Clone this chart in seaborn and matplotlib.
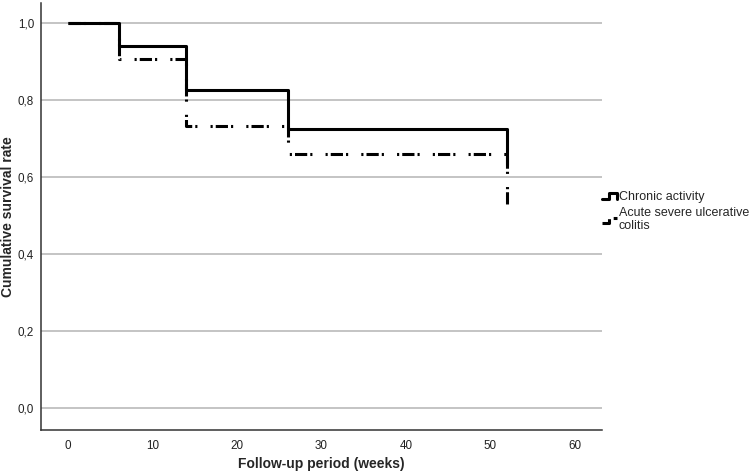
import matplotlib
matplotlib.use("Agg")
import matplotlib.pyplot as plt
import seaborn as sns
import pandas as pd
from matplotlib.lines import Line2D
from matplotlib.legend_handler import HandlerLine2D
from matplotlib.ticker import FuncFormatter

# ---- data ----
groups = ["Chronic activity", "Acute severe ulcerative\ncolitis"]
time_chronic = [0, 6, 14, 26, 52]
surv_chronic = [1.0, 0.941, 0.827, 0.724, 0.63]
time_asuc = [0, 6, 14, 26, 52]
surv_asuc = [1.0, 0.905, 0.733, 0.66, 0.53]
x_ticks = [0, 10, 20, 30, 40, 50, 60]
y_ticks = [0.0, 0.2, 0.4, 0.6, 0.8, 1.0]

df = pd.concat([
    pd.DataFrame({"time": time_chronic, "surv": surv_chronic, "group": groups[0]}),
    pd.DataFrame({"time": time_asuc, "surv": surv_asuc, "group": groups[1]}),
], ignore_index=True)

sns.set_theme(style="white")
plt.rcParams["font.family"] = ["Liberation Sans", "DejaVu Sans"]

fig = plt.figure(figsize=(7.55, 4.73), dpi=100)
ax = fig.add_axes([0.0543, 0.0909, 0.7427, 0.9031])

dash_asuc = (4, 1, 0.7, 4.3, 0.7, 1)
sns.lineplot(data=df, x="time", y="surv", hue="group", style="group",
             palette={groups[0]: "black", groups[1]: "black"},
             dashes={groups[0]: "", groups[1]: dash_asuc},
             drawstyle="steps-post", estimator=None, sort=False,
             linewidth=2.2, legend=False, ax=ax)

for ln in ax.get_lines():
    ln.set_dash_capstyle("butt")
    ln.set_solid_capstyle("butt")

ax.set_xlim(-3.2, 63.2)
ax.set_ylim(-0.057, 1.052)
ax.set_xticks(x_ticks)
ax.set_yticks(y_ticks)
ax.yaxis.set_major_formatter(FuncFormatter(lambda v, p: f"{v:.1f}".replace(".", ",")))
ax.tick_params(axis="both", length=0, labelsize=8.4, colors="#222222")
ax.tick_params(axis="x", pad=7)
ax.tick_params(axis="y", pad=5)
ax.grid(axis="y", color="#b4b4b4", linewidth=1.1)
ax.set_axisbelow(True)
for s in ["top", "right"]:
    ax.spines[s].set_visible(False)
for s in ["left", "bottom"]:
    ax.spines[s].set_color("#333333")
    ax.spines[s].set_linewidth(1.1)

ax.set_xlabel("Follow-up period (weeks)", fontsize=10, fontweight="bold")
ax.set_ylabel("Cumulative survival rate", fontsize=10, fontweight="bold")
ax.xaxis.set_label_coords(0.5, -0.08)
ax.xaxis.label.set_va("center")
ax.yaxis.set_label_coords(-0.058, 0.5)
ax.yaxis.label.set_va("center")


class StepHandler(HandlerLine2D):
    def create_artists(self, legend, orig_handle, xdescent, ydescent,
                       width, height, fontsize, trans):
        x0 = -xdescent
        lo = -ydescent + height * 0.15
        hi = -ydescent + height * 0.75
        solid = orig_handle.get_linestyle() == "-"
        xs = [x0, x0 + width * 0.45, x0 + width * 0.45, x0 + width, x0 + width]
        ys = [lo, lo, hi, hi, lo]
        if not solid:
            xs = xs[:4]
            ys = ys[:4]
        line = Line2D(xs, ys, color="black", linewidth=2.2,
                      linestyle=orig_handle.get_linestyle())
        line.set_dash_capstyle("butt")
        line.set_transform(trans)
        return [line]


h1 = Line2D([], [], color="black", linestyle="-")
h2 = Line2D([], [], color="black", linestyle=(0, (2, 1.5, 0.7, 1.5)))
leg = fig.legend([h1, h2], groups, loc="upper left",
                 bbox_to_anchor=(0.783, 0.62), frameon=False,
                 fontsize=9, handlelength=1.2, handletextpad=0.1,
                 labelspacing=0.35, handler_map={Line2D: StepHandler()})
for t in leg.get_texts():
    t.set_linespacing(1.05)

fig.savefig("out.png", dpi=100)
